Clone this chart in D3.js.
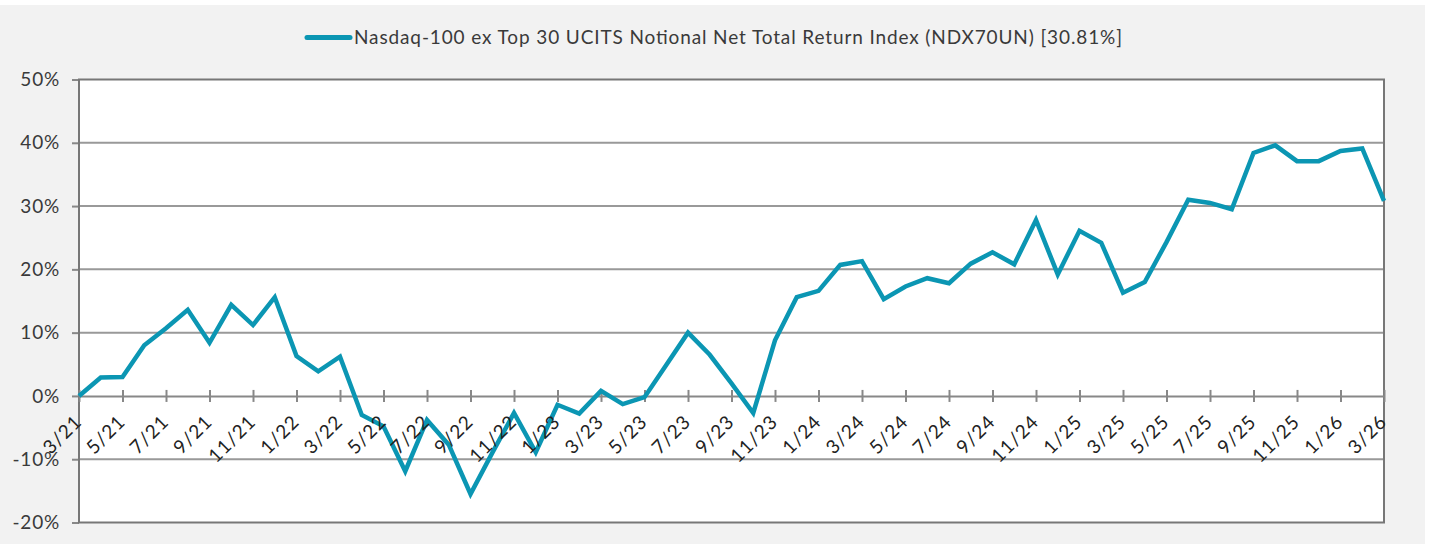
<!DOCTYPE html>
<html>
<head>
<meta charset="utf-8">
<script src="https://cdn.jsdelivr.net/npm/d3@7"></script>
<style>
  body { margin: 0; background: #fff; }
  svg { display: block; font-family: Lato, "Open Sans", sans-serif; }
</style>
</head>
<body>
<div class="chart"></div>
<script>
// Monthly observations, 3/21 .. 3/26
const months = [
  "3/21","4/21","5/21","6/21","7/21","8/21","9/21","10/21","11/21","12/21",
  "1/22","2/22","3/22","4/22","5/22","6/22","7/22","8/22","9/22","10/22","11/22","12/22",
  "1/23","2/23","3/23","4/23","5/23","6/23","7/23","8/23","9/23","10/23","11/23","12/23",
  "1/24","2/24","3/24","4/24","5/24","6/24","7/24","8/24","9/24","10/24","11/24","12/24",
  "1/25","2/25","3/25","4/25","5/25","6/25","7/25","8/25","9/25","10/25","11/25","12/25",
  "1/26","2/26","3/26"
];

// Cumulative return, %
const returns = [
  0.0, 2.9, 3.0, 8.0, 10.7, 13.6, 8.4, 14.4, 11.2, 15.6,
  6.3, 3.9, 6.2, -3.0, -4.8, -11.9, -3.8, -7.7, -15.5, -9.0, -2.7, -8.9,
  -1.4, -2.8, 0.8, -1.3, -0.2, 4.9, 10.0, 6.5, 2.0, -2.7, 8.8, 15.6,
  16.6, 20.7, 21.3, 15.3, 17.3, 18.6, 17.8, 20.9, 22.7, 20.8, 27.8, 19.2,
  26.1, 24.2, 16.3, 18.0, 24.3, 31.0, 30.5, 29.5, 38.4, 39.6, 37.1, 37.1,
  38.7, 39.1, 30.81
];

const seriesName = "Nasdaq-100 ex Top 30 UCITS Notional Net Total Return Index (NDX70UN) [30.81%]";
const yTicks = [-20, -10, 0, 10, 20, 30, 40, 50];
// x labels every other month
const xLabels = months.filter((m, i) => i % 2 === 0);

const W = 1432, H = 544;
const margin = { top: 79.5, right: 48, bottom: 21.5, left: 79 };
const width = W - margin.left - margin.right;
const height = H - margin.top - margin.bottom;

const lineColor = "#0b96b3";
const textColor = "#3a3a3a";

const svg = d3.select(".chart")
    .append("svg")
    .attr("width", W)
    .attr("height", H);

// grey outer panel
svg.append("rect")
    .attr("x", 0).attr("y", 5)
    .attr("width", 1425).attr("height", H - 5)
    .attr("fill", "#f2f2f2");

const g = svg.append("g")
    .attr("transform", `translate(${margin.left}, ${margin.top})`);

const x = d3.scalePoint()
    .domain(months)
    .range([0, width]);

const y = d3.scaleLinear()
    .domain([-20, 50])
    .range([height, 0]);

// plot area
g.append("rect")
    .attr("width", width)
    .attr("height", height)
    .attr("fill", "#fff");

// horizontal gridlines
g.append("g")
    .selectAll("line")
    .data(yTicks.filter(d => d !== -20 && d !== 50 && d !== 0))
    .enter()
    .append("line")
    .attr("x1", 0).attr("x2", width)
    .attr("y1", d => y(d)).attr("y2", d => y(d))
    .attr("stroke", "#999")
    .attr("stroke-width", 2);

// y axis
const yAxis = g.append("g")
    .call(d3.axisLeft(y).tickValues(yTicks).tickFormat(d => d + "%").tickSize(7).tickPadding(12));
yAxis.select(".domain").remove();
yAxis.selectAll(".tick line").attr("stroke", "#888").attr("stroke-width", 2);
yAxis.selectAll(".tick text")
    .attr("fill", textColor)
    .style("font-size", "19px")
    .style("letter-spacing", "0.8px")
    .style("font-family", "Lato, sans-serif");

// border: top, right, bottom, left
g.append("rect")
    .attr("width", width)
    .attr("height", height)
    .attr("fill", "none")
    .attr("stroke", "#777")
    .attr("stroke-width", 2);

// x axis at 0%
const xAxis = g.append("g")
    .attr("transform", `translate(0, ${y(0)})`)
    .call(d3.axisBottom(x).tickValues(xLabels).tickSize(0).tickFormat(""));
xAxis.select(".domain").attr("stroke", "#888").attr("stroke-width", 2);

xAxis.selectAll(".tick line").remove();
xAxis.selectAll(".tick")
    .append("line")
    .attr("y1", -6).attr("y2", 6)
    .attr("stroke", "#888")
    .attr("stroke-width", 2);

// data line
const line = d3.line()
    .x((d, i) => x(months[i]))
    .y(d => y(d));

g.append("path")
    .datum(returns)
    .attr("fill", "none")
    .attr("stroke", lineColor)
    .attr("stroke-width", 4.5)
    .attr("stroke-linejoin", "miter")
    .attr("d", line);

// rotated x labels (drawn above line, as in the original)
g.append("g")
    .selectAll("text")
    .data(xLabels)
    .enter()
    .append("text")
    .attr("transform", d => `translate(${x(d) + 4}, ${y(0) + 27}) rotate(-45)`)
    .attr("text-anchor", "end")
    .attr("fill", "#222")
    .style("font-size", "19px")
    .style("letter-spacing", "1px")
    .text(d => d);

// legend
const legend = svg.append("g");
legend.append("line")
    .attr("x1", 307).attr("x2", 350)
    .attr("y1", 37.5).attr("y2", 37.5)
    .attr("stroke", lineColor)
    .attr("stroke-width", 5)
    .attr("stroke-linecap", "round");
legend.append("text")
    .attr("x", 354)
    .attr("y", 44)
    .attr("fill", textColor)
    .attr("textLength", 768)
    .attr("lengthAdjust", "spacing")
    .style("font-size", "19px")
    .text(seriesName);
</script>
</body>
</html>
